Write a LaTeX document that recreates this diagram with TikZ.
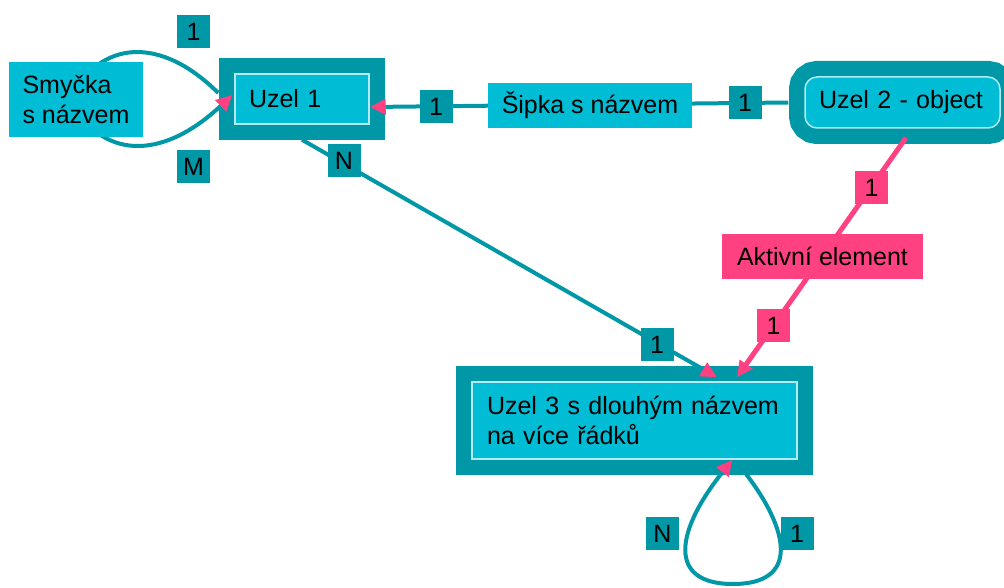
\documentclass[tikz,border=0pt]{standalone}
\usepackage{fontspec}
\setmainfont{Liberation Sans}
\usetikzlibrary{arrows.meta}
\definecolor{tealc}{HTML}{0097A7}
\definecolor{cyanmid}{HTML}{00BCD4}
\definecolor{cyanlight}{HTML}{B2EBF2}
\definecolor{pinkc}{HTML}{FF4081}
\tikzset{
  txt/.style={font=\fontsize{25}{30}\selectfont, text=black},
  inbox/.style={txt, draw=cyanlight, line width=1.5pt, fill=cyanmid,
    preaction={draw=tealc, line width=32pt}, align=left, inner ysep=0pt},
  plainbox/.style={txt, fill=cyanmid, inner sep=0pt},
  card/.style={txt, fill=tealc, minimum width=33pt, minimum height=33pt, inner sep=0pt},
  pcard/.style={card, fill=pinkc},
  conn/.style={draw=tealc, line width=4pt},
  pconn/.style={draw=pinkc, line width=5pt},
  tipend/.style={-{Triangle[length=16pt,width=15pt,color=pinkc]}}
}
\begin{document}
\begin{tikzpicture}[x=1pt,y=-1pt]
\useasboundingbox (0,0) rectangle (1004,588);
\clip (0,0) rectangle (1004,588);
% main nodes
\node[inbox, text width=106pt, inner xsep=14pt, minimum height=50pt] (u1in) at (302,99) {Uzel 1};
\node[inbox, rounded corners=12pt, text width=167pt, inner xsep=14pt, minimum height=51pt] (u2in) at (902.5,102.5) {Uzel 2 - object};
\node[inbox, text width=295pt, inner xsep=15pt, minimum height=77pt] (u3in) at (634.5,420.5) {Uzel 3 s dlouhým názvem\\na více řádků};
% connectors
\draw[conn, tipend] ([xshift=-16pt,yshift=6pt]u1in.west) .. controls (160,35) and (100,40) .. (70,99)
   .. controls (100,158) and (160,163) .. ([xshift=-2pt,yshift=4pt]u1in.west);
\draw[conn, tipend] ([xshift=-16pt]u2in.west) -- ([yshift=-8pt]u1in.east);
\draw[conn, tipend] ([yshift=-15pt]u1in.south) -- ([xshift=82.5pt,yshift=4pt]u3in.north);
\draw[pconn, tipend] ([xshift=3.5pt,yshift=-9pt]u2in.south) -- ([xshift=102.5pt,yshift=4pt]u3in.north);
\draw[conn, tipend] ([xshift=109pt,yshift=-11pt]u3in.south) .. controls (790,530) and (800,584) .. (733,584)
   .. controls (666,584) and (676,530) .. ([xshift=98pt]u3in.south);
% labels
\node[plainbox, align=left, inner xsep=14pt, minimum height=75pt] (smy) at (76,99.5) {Smyčka\\s názvem};
\node[plainbox, minimum width=204pt, minimum height=45pt] (sipka) at (590,105.5) {Šipka s názvem};
\node[plainbox, fill=pinkc, minimum width=201pt, minimum height=45pt] (akt) at (822.5,256.5) {Aktivní element};
\node[card] (c1) at (193.5,31.5) {1};
\node[card] (c2) at (193.5,167) {M};
\node[card] (c3) at (344,161) {N};
\node[card] (c4) at (436,107) {1};
\node[card] (c5) at (745,103) {1};
\node[card] (c6) at (657,344.5) {1};
\node[pcard] (c7) at (871.5,187.5) {1};
\node[pcard] (c8) at (773.5,325.5) {1};
\node[card] (c9) at (662.5,533.5) {N};
\node[card] (c10) at (797,533.5) {1};
\end{tikzpicture}
\end{document}
